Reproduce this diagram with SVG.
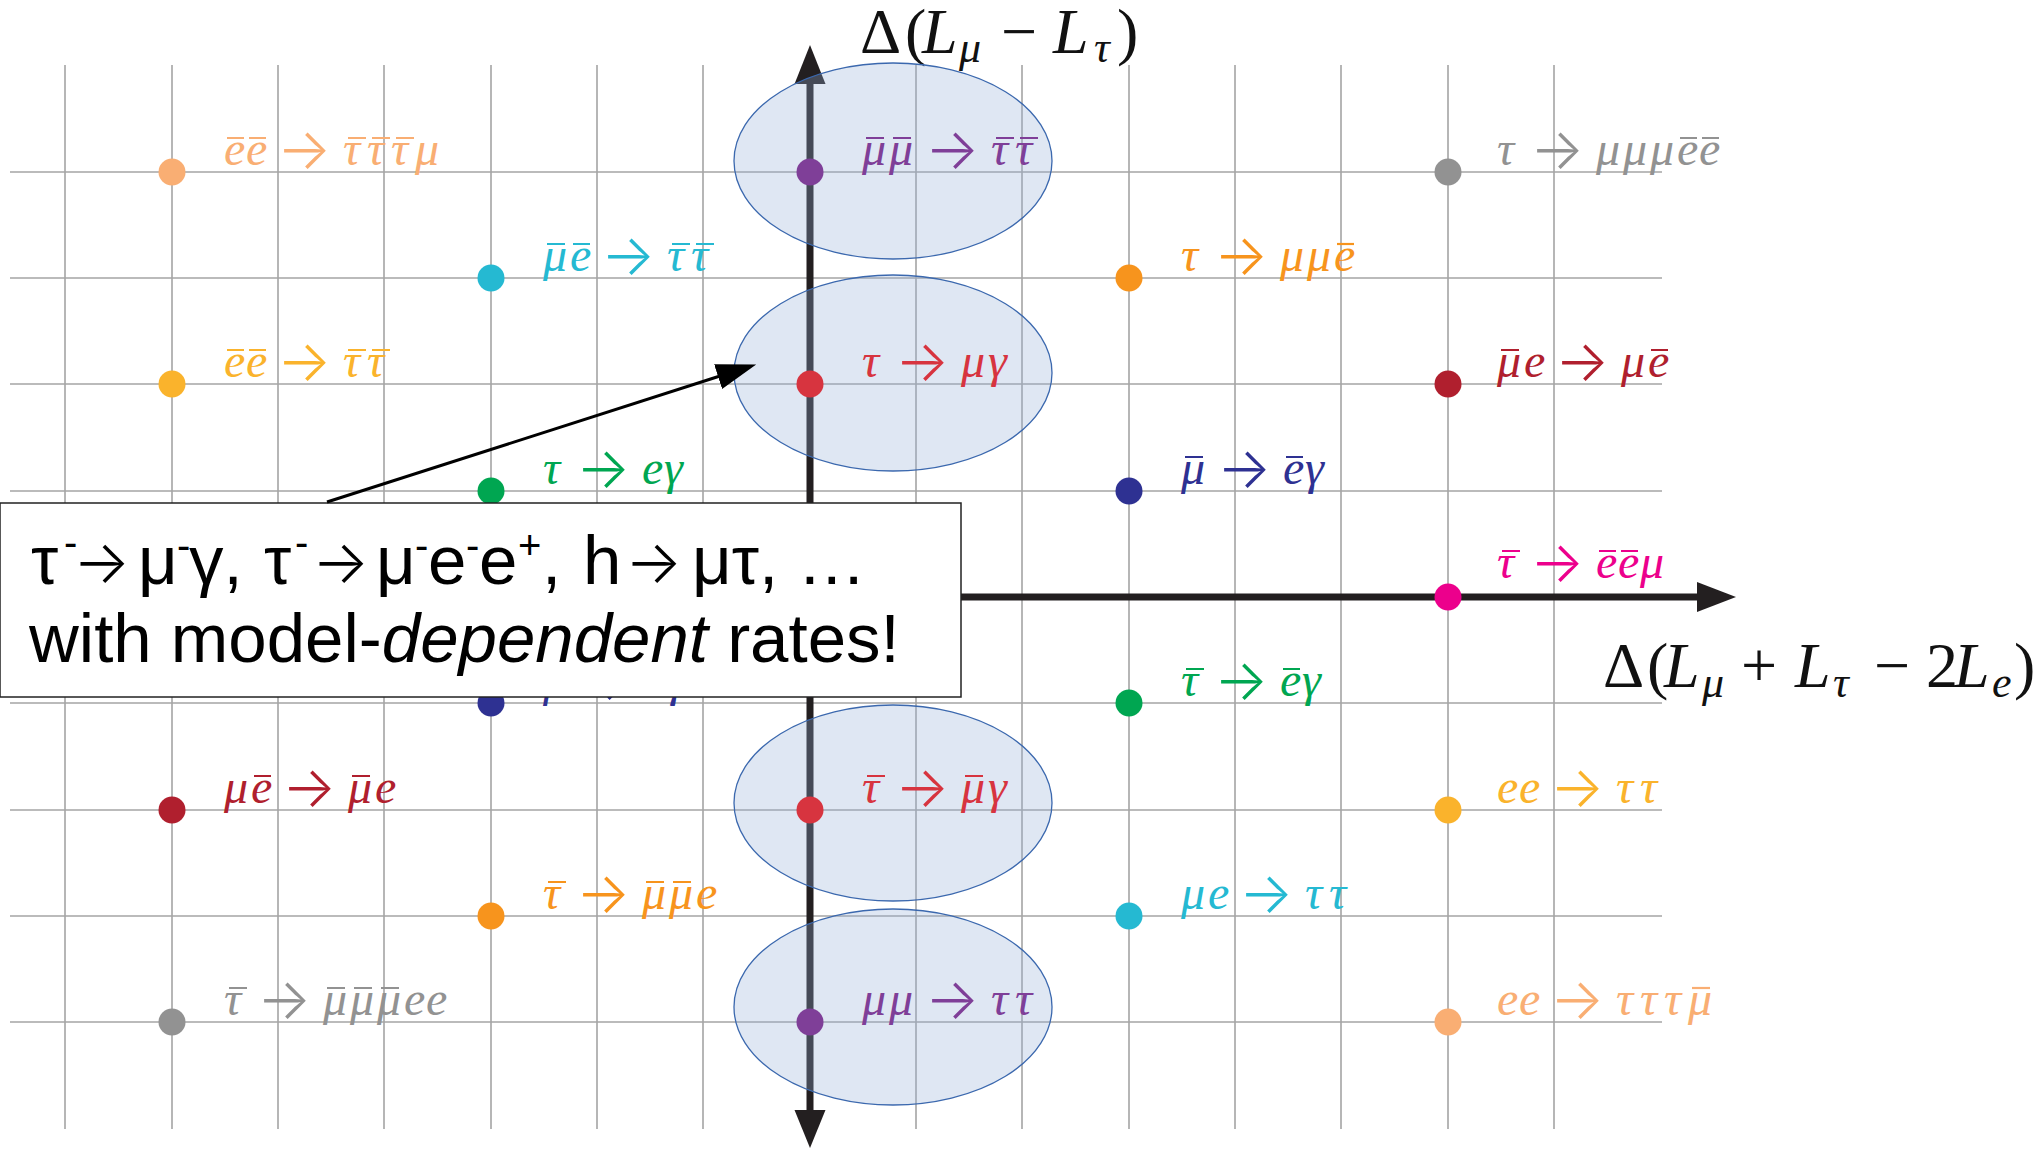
<svg xmlns="http://www.w3.org/2000/svg" width="2039" height="1149" viewBox="0 0 2039 1149">
<style>
.grid line{stroke:#a4a4a4;stroke-width:1.6}
.lbl{font-family:"Liberation Serif","DejaVu Serif",serif;font-style:italic;font-size:48px}
.ar{font-family:Inter,"DejaVu Sans",sans-serif;font-style:normal;font-weight:300;font-size:57px}
.bar{fill:none;stroke-width:2.2}
.ax{font-family:"Liberation Serif","DejaVu Serif",serif;font-size:64px;fill:#111}
.ax .i{font-style:italic}
.ax .s{font-size:44px;font-style:italic}
.bt{font-family:"Liberation Sans",Arial,sans-serif;font-size:69px;fill:#000}
.bt .sp{font-size:40px}
.bt .ba{font-family:Inter,"DejaVu Sans",sans-serif;font-weight:300;font-size:60px}
.ell{fill:#94afd7;fill-opacity:0.3;stroke:#3b68ae;stroke-width:1.3}
.axis{stroke:#231f20;stroke-width:7}
</style>
<defs>
<marker id="ah" markerUnits="userSpaceOnUse" markerWidth="40" markerHeight="28" refX="2" refY="13" orient="auto" viewBox="0 0 40 26">
<path d="M0,0 L40,13 L0,26 z" fill="#000"/>
</marker>
</defs>
<rect width="2039" height="1149" fill="#fff"/>
<g class="grid">
<line x1="65" y1="65" x2="65" y2="1129"/>
<line x1="172" y1="65" x2="172" y2="1129"/>
<line x1="278" y1="65" x2="278" y2="1129"/>
<line x1="384" y1="65" x2="384" y2="1129"/>
<line x1="491" y1="65" x2="491" y2="1129"/>
<line x1="597" y1="65" x2="597" y2="1129"/>
<line x1="703" y1="65" x2="703" y2="1129"/>
<line x1="810" y1="65" x2="810" y2="1129"/>
<line x1="916" y1="65" x2="916" y2="1129"/>
<line x1="1022" y1="65" x2="1022" y2="1129"/>
<line x1="1129" y1="65" x2="1129" y2="1129"/>
<line x1="1235" y1="65" x2="1235" y2="1129"/>
<line x1="1341" y1="65" x2="1341" y2="1129"/>
<line x1="1448" y1="65" x2="1448" y2="1129"/>
<line x1="1554" y1="65" x2="1554" y2="1129"/>
<line x1="10" y1="172" x2="1662" y2="172"/>
<line x1="10" y1="278" x2="1662" y2="278"/>
<line x1="10" y1="384" x2="1662" y2="384"/>
<line x1="10" y1="491" x2="1662" y2="491"/>
<line x1="10" y1="597" x2="1662" y2="597"/>
<line x1="10" y1="703" x2="1662" y2="703"/>
<line x1="10" y1="810" x2="1662" y2="810"/>
<line x1="10" y1="916" x2="1662" y2="916"/>
<line x1="10" y1="1022" x2="1662" y2="1022"/>
</g>
<g id="axes">
<line class="axis" x1="20" y1="597" x2="1698" y2="597"/>
<polygon points="1736,597 1697,582 1697,612" fill="#231f20"/>
<line class="axis" x1="810" y1="82" x2="810" y2="1112"/>
<polygon points="810,45 794.5,84 825.5,84" fill="#231f20"/>
<polygon points="810,1148 794.5,1110 825.5,1110" fill="#231f20"/>
<text class="ax" y="53"><tspan x="860">Δ</tspan><tspan x="905">(</tspan><tspan class="i" x="922">L</tspan><tspan class="s" x="959" y="62">μ</tspan><tspan x="1001" y="53">−</tspan><tspan class="i" x="1053">L</tspan><tspan class="s" x="1094" y="62">τ</tspan><tspan x="1117" y="53">)</tspan></text>
<text class="ax" y="687"><tspan x="1603">Δ</tspan><tspan x="1647">(</tspan><tspan class="i" x="1664">L</tspan><tspan class="s" x="1702" y="697">μ</tspan><tspan x="1741" y="687">+</tspan><tspan class="i" x="1795">L</tspan><tspan class="s" x="1833" y="697">τ</tspan><tspan x="1874" y="687">−</tspan><tspan x="1926">2</tspan><tspan class="i" x="1954">L</tspan><tspan class="s" x="1992" y="697">e</tspan><tspan x="2014" y="687">)</tspan></text>
</g>
<g id="regions">
<ellipse class="ell" cx="893" cy="161" rx="159" ry="98"/>
<ellipse class="ell" cx="893" cy="373" rx="159" ry="98"/>
<ellipse class="ell" cx="893" cy="803" rx="159" ry="98"/>
<ellipse class="ell" cx="893" cy="1007" rx="159" ry="98"/>
</g>
<g id="n-ee-tttm" fill="#f9ae73"><circle cx="172" cy="172" r="13.5"/><text class="lbl" y="165"><tspan x="224 246">ee</tspan><tspan class="ar" x="277" y="169">→</tspan><tspan x="343 367 391 415" y="165">τττμ</tspan></text><path class="bar" stroke="#f9ae73" d="M227,138h17M249,138h17M348,138h18M372,138h18M396,138h18"/></g>
<g id="n-me-tt-bar" fill="#25b9d2"><circle cx="491" cy="278" r="13.5"/><text class="lbl" y="271"><tspan x="543 570">μe</tspan><tspan class="ar" x="601" y="275">→</tspan><tspan x="667 691" y="271">ττ</tspan></text><path class="bar" stroke="#25b9d2" d="M547,244h18M573,244h17M672,244h18M696,244h18"/></g>
<g id="n-ee-tt-bar" fill="#fab32c"><circle cx="172" cy="384" r="13.5"/><text class="lbl" y="377"><tspan x="224 246">ee</tspan><tspan class="ar" x="277" y="381">→</tspan><tspan x="343 367" y="377">ττ</tspan></text><path class="bar" stroke="#fab32c" d="M227,350h17M249,350h17M348,350h18M372,350h18"/></g>
<g id="n-t-eg" fill="#00a651"><circle cx="491" cy="491" r="13.5"/><text class="lbl" y="484"><tspan x="543">τ</tspan><tspan class="ar" x="576" y="488">→</tspan><tspan x="642 664" y="484">eγ</tspan></text></g>
<g id="n-m-eg" fill="#2e3192"><circle cx="491" cy="703" r="13.5"/><text class="lbl" y="696"><tspan x="543">μ</tspan><tspan class="ar" x="579" y="700">→</tspan><tspan x="645 667" y="696">eγ</tspan></text></g>
<g id="n-mm-tt-bar" fill="#7f3f98"><circle cx="810" cy="172" r="13.5"/><text class="lbl" y="165"><tspan x="862 889">μμ</tspan><tspan class="ar" x="925" y="169">→</tspan><tspan x="991 1015" y="165">ττ</tspan></text><path class="bar" stroke="#7f3f98" d="M866,138h18M893,138h18M996,138h18M1020,138h18"/></g>
<g id="n-t-mg" fill="#d7343f"><circle cx="810" cy="384" r="13.5"/><text class="lbl" y="377"><tspan x="862">τ</tspan><tspan class="ar" x="895" y="381">→</tspan><tspan x="961 988" y="377">μγ</tspan></text></g>
<g id="n-t-mg-bar" fill="#d7343f"><circle cx="810" cy="810" r="13.5"/><text class="lbl" y="803"><tspan x="862">τ</tspan><tspan class="ar" x="895" y="807">→</tspan><tspan x="961 988" y="803">μγ</tspan></text><path class="bar" stroke="#d7343f" d="M867,776h18M965,776h18"/></g>
<g id="n-mm-tt" fill="#7f3f98"><circle cx="810" cy="1022" r="13.5"/><text class="lbl" y="1015"><tspan x="862 889">μμ</tspan><tspan class="ar" x="925" y="1019">→</tspan><tspan x="991 1015" y="1015">ττ</tspan></text></g>
<g id="n-t-mme" fill="#f7941d"><circle cx="1129" cy="278" r="13.5"/><text class="lbl" y="271"><tspan x="1181">τ</tspan><tspan class="ar" x="1214" y="275">→</tspan><tspan x="1280 1307 1334" y="271">μμe</tspan></text><path class="bar" stroke="#f7941d" d="M1337,244h17"/></g>
<g id="n-m-eg-bar" fill="#2e3192"><circle cx="1129" cy="491" r="13.5"/><text class="lbl" y="484"><tspan x="1181">μ</tspan><tspan class="ar" x="1217" y="488">→</tspan><tspan x="1283 1305" y="484">eγ</tspan></text><path class="bar" stroke="#2e3192" d="M1185,457h18M1286,457h17"/></g>
<g id="n-t-eg-bar" fill="#00a651"><circle cx="1129" cy="703" r="13.5"/><text class="lbl" y="696"><tspan x="1181">τ</tspan><tspan class="ar" x="1214" y="700">→</tspan><tspan x="1280 1302" y="696">eγ</tspan></text><path class="bar" stroke="#00a651" d="M1186,669h18M1283,669h17"/></g>
<g id="n-me-tt" fill="#25b9d2"><circle cx="1129" cy="916" r="13.5"/><text class="lbl" y="909"><tspan x="1181 1208">μe</tspan><tspan class="ar" x="1239" y="913">→</tspan><tspan x="1305 1329" y="909">ττ</tspan></text></g>
<g id="n-t-mmmee" fill="#929292"><circle cx="1448" cy="172" r="13.5"/><text class="lbl" y="165"><tspan x="1497">τ</tspan><tspan class="ar" x="1530" y="169">→</tspan><tspan x="1596 1623 1650 1677 1699" y="165">μμμee</tspan></text><path class="bar" stroke="#929292" d="M1680,138h17M1702,138h17"/></g>
<g id="n-me-me" fill="#b01f2e"><circle cx="1448" cy="384" r="13.5"/><text class="lbl" y="377"><tspan x="1497 1524">μe</tspan><tspan class="ar" x="1555" y="381">→</tspan><tspan x="1621 1648" y="377">μe</tspan></text><path class="bar" stroke="#b01f2e" d="M1501,350h18M1651,350h17"/></g>
<g id="n-t-eem" fill="#ec008c"><circle cx="1448" cy="597" r="13.5"/><text class="lbl" y="578"><tspan x="1497">τ</tspan><tspan class="ar" x="1530" y="582">→</tspan><tspan x="1596 1618 1640" y="578">eeμ</tspan></text><path class="bar" stroke="#ec008c" d="M1502,551h18M1599,551h17M1621,551h17"/></g>
<g id="n-ee-tt" fill="#fab32c"><circle cx="1448" cy="810" r="13.5"/><text class="lbl" y="803"><tspan x="1497 1519">ee</tspan><tspan class="ar" x="1550" y="807">→</tspan><tspan x="1616 1640" y="803">ττ</tspan></text></g>
<g id="n-ee-tttm-bar" fill="#f9ae73"><circle cx="1448" cy="1022" r="13.5"/><text class="lbl" y="1015"><tspan x="1497 1519">ee</tspan><tspan class="ar" x="1550" y="1019">→</tspan><tspan x="1616 1640 1664 1688" y="1015">τττμ</tspan></text><path class="bar" stroke="#f9ae73" d="M1692,988h18"/></g>
<g id="n-me-me-bar" fill="#b01f2e"><circle cx="172" cy="810" r="13.5"/><text class="lbl" y="803"><tspan x="224 251">μe</tspan><tspan class="ar" x="282" y="807">→</tspan><tspan x="348 375" y="803">μe</tspan></text><path class="bar" stroke="#b01f2e" d="M254,776h17M352,776h18"/></g>
<g id="n-t-mme-bar" fill="#f7941d"><circle cx="491" cy="916" r="13.5"/><text class="lbl" y="909"><tspan x="543">τ</tspan><tspan class="ar" x="576" y="913">→</tspan><tspan x="642 669 696" y="909">μμe</tspan></text><path class="bar" stroke="#f7941d" d="M548,882h18M646,882h18M673,882h18"/></g>
<g id="n-t-mmmee-bar" fill="#929292"><circle cx="172" cy="1022" r="13.5"/><text class="lbl" y="1015"><tspan x="224">τ</tspan><tspan class="ar" x="257" y="1019">→</tspan><tspan x="323 350 377 404 426" y="1015">μμμee</tspan></text><path class="bar" stroke="#929292" d="M229,988h18M327,988h18M354,988h18M381,988h18"/></g>
<g id="callout">
<rect x="0" y="503" width="961" height="194" fill="#fff" stroke="#222" stroke-width="1.5"/>
<text class="bt" y="584"><tspan x="31">τ</tspan><tspan class="sp" x="64" y="556">-</tspan><tspan class="ba" x="73" y="583">→</tspan><tspan x="138" y="584">μ</tspan><tspan class="sp" x="177" y="559">-</tspan><tspan x="189" y="584">γ,</tspan><tspan x="264">τ</tspan><tspan class="sp" x="295" y="556">-</tspan><tspan class="ba" x="312" y="583">→</tspan><tspan x="376" y="584">μ</tspan><tspan class="sp" x="415" y="559">-</tspan><tspan x="428" y="584">e</tspan><tspan class="sp" x="466" y="559">-</tspan><tspan x="479" y="584">e</tspan><tspan class="sp" x="518" y="559">+</tspan><tspan x="542" y="584">,</tspan><tspan x="583">h</tspan><tspan class="ba" x="625" y="583">→</tspan><tspan x="692" y="584">μτ, …</tspan></text>
<text class="bt" x="29" y="662">with model-<tspan font-style="italic">dependent</tspan> rates!</text>
</g>
<g id="connectors">
<line x1="327" y1="502" x2="720" y2="376" stroke="#000" stroke-width="3" marker-end="url(#ah)"/>
</g>
</svg>
